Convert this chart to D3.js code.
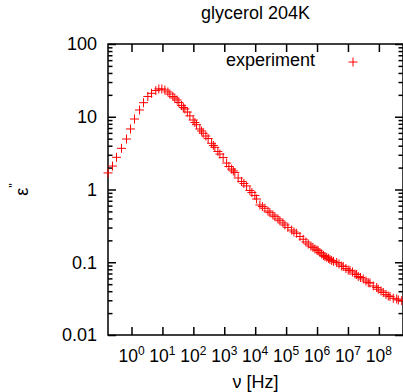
<!DOCTYPE html>
<html>
<head>
<meta charset="utf-8">
<script src="https://cdnjs.cloudflare.com/ajax/libs/d3/7.8.5/d3.min.js"></script>
<style>
	body { margin: 0; background: #fff; }
	text { font-family: "Liberation Sans", Arial, Helvetica, sans-serif; fill: #000; }
</style>
</head>
<body>
<div id="chart"></div>
<script>

///////////////////////////////////////////////////////////////////////////
///////////////////////////////// Data ////////////////////////////////////
///////////////////////////////////////////////////////////////////////////

var titleText = "glycerol 204K";
var seriesName = "experiment";

//frequency [Hz]
var freq = [0.174, 0.243, 0.327, 0.474, 0.689, 0.929, 1.25, 1.82, 2.45, 3.37,
	4.44, 6.11, 7.64, 9.57, 12.0, 15.0, 17.4, 21.7, 25.2, 29.9,
	34.0, 41.5, 47.5, 53.1, 64.0, 77.1, 98.6, 112, 127, 162,
	184, 208, 254, 301, 388, 444, 497, 621, 721, 921,
	1190, 1410, 1720, 1970, 2200, 2820, 3630, 4310, 5270, 6730,
	7820, 9780, 1.11e4, 1.42e4, 1.71e4, 2.06e4, 2.58e4, 2.99e4, 3.74e4, 4.35e4,
	5.43e4, 6.30e4, 7.87e4, 9.14e4, 1.14e5, 1.51e5, 1.79e5, 2.19e5, 2.80e5, 3.57e5,
	4.37e5, 5.19e5, 6.35e5, 7.37e5, 8.55e5, 9.93e5, 1.09e6, 1.24e6, 1.41e6, 1.61e6,
	1.80e6, 2.05e6, 2.34e6, 2.61e6, 2.97e6, 3.40e6, 4.31e6, 5.12e6, 6.25e6, 7.05e6,
	8.61e6, 1.02e7, 1.16e7, 1.40e7, 1.69e7, 1.91e7, 2.15e7, 2.54e7, 3.13e7, 3.83e7,
	4.54e7, 5.15e7, 6.59e7, 8.49e7, 9.57e7, 1.17e8, 1.39e8, 1.70e8, 2.01e8, 2.29e8,
	2.92e8, 3.77e8, 4.25e8, 5.47e8];

//dielectric loss eps''
var epsLoss = [1.69, 2.10, 2.77, 3.68, 4.94, 6.79, 9.31, 12.4, 15.6, 19.0,
	21.0, 22.9, 24.1, 24.1, 23.3, 21.9, 20.5, 19.0, 18.1, 17.0,
	15.7, 14.3, 13.4, 12.8, 11.6, 10.3, 9.02, 8.34, 7.78, 6.79,
	6.37, 5.93, 5.43, 5.02, 4.32, 4.03, 3.80, 3.33, 3.07, 2.75,
	2.31, 2.07, 1.91, 1.80, 1.71, 1.44, 1.29, 1.21, 1.12, 0.968,
	0.910, 0.828, 0.740, 0.612, 0.583, 0.552, 0.506, 0.480, 0.446, 0.423,
	0.394, 0.372, 0.347, 0.325, 0.301, 0.277, 0.261, 0.250, 0.226, 0.207,
	0.190, 0.178, 0.167, 0.160, 0.152, 0.147, 0.144, 0.136, 0.130, 0.124,
	0.120, 0.117, 0.113, 0.109, 0.106, 0.103, 0.0993, 0.0946, 0.0888, 0.0875,
	0.0820, 0.0782, 0.0771, 0.0735, 0.0689, 0.0679, 0.0637, 0.0617, 0.0589, 0.0552,
	0.0524, 0.0519, 0.0472, 0.0450, 0.0426, 0.0403, 0.0384, 0.0361, 0.0344, 0.0338,
	0.0320, 0.0313, 0.0303, 0.0296];

var xTickValues = [1e0, 1e1, 1e2, 1e3, 1e4, 1e5, 1e6, 1e7, 1e8];
var xTickExp = ["0", "1", "2", "3", "4", "5", "6", "7", "8"];
var yTickValues = [0.01, 0.1, 1, 10, 100];
var yTickLabels = ["0.01", "0.1", "1", "10", "100"];

///////////////////////////////////////////////////////////////////////////
//////////////////// Set up and initiate svg container ////////////////////
///////////////////////////////////////////////////////////////////////////

var width = 403, height = 392;
var margin = { top: 44, right: 0, bottom: 57, left: 108 };
var plotW = width - margin.left - margin.right,
	plotH = height - margin.top - margin.bottom;

var svg = d3.select("#chart").append("svg")
	.attr("width", width)
	.attr("height", height);

var x = d3.scaleLog()
	.domain([Math.pow(10, -0.76), Math.pow(10, 8.78)])
	.range([margin.left, margin.left + plotW]);

var y = d3.scaleLog()
	.domain([0.01, 100])
	.range([margin.top + plotH, margin.top]);

var data = freq.map(function(f, i) { return { f: f, e: epsLoss[i] }; });

///////////////////////////////////////////////////////////////////////////
///////////////////////////////// Axes ////////////////////////////////////
///////////////////////////////////////////////////////////////////////////

var majorLen = 8, minorLen = 4.5;

//minor y ticks 2..9 per decade
var yMinor = [];
yTickValues.slice(0, -1).forEach(function(d) {
	d3.range(2, 10).forEach(function(k) { yMinor.push(d * k); });
});

//Left and right (mirror) axes, ticks pointing inward
svg.append("g")
	.attr("transform", "translate(" + margin.left + ",0)")
	.call(d3.axisRight(y).tickValues(yTickValues).tickSize(majorLen).tickFormat(""))
	.call(function(g) { g.select(".domain").remove(); });
svg.append("g")
	.attr("transform", "translate(" + margin.left + ",0)")
	.call(d3.axisRight(y).tickValues(yMinor).tickSize(minorLen).tickFormat(""))
	.call(function(g) { g.select(".domain").remove(); });
svg.append("g")
	.attr("transform", "translate(" + (margin.left + plotW) + ",0)")
	.call(d3.axisLeft(y).tickValues(yTickValues).tickSize(majorLen).tickFormat(""))
	.call(function(g) { g.select(".domain").remove(); });
svg.append("g")
	.attr("transform", "translate(" + (margin.left + plotW) + ",0)")
	.call(d3.axisLeft(y).tickValues(yMinor).tickSize(minorLen).tickFormat(""))
	.call(function(g) { g.select(".domain").remove(); });

//Bottom and top (mirror) axes
svg.append("g")
	.attr("transform", "translate(0," + (margin.top + plotH) + ")")
	.call(d3.axisTop(x).tickValues(xTickValues).tickSize(majorLen).tickFormat(""))
	.call(function(g) { g.select(".domain").remove(); });
svg.append("g")
	.attr("transform", "translate(0," + margin.top + ")")
	.call(d3.axisBottom(x).tickValues(xTickValues).tickSize(majorLen).tickFormat(""))
	.call(function(g) { g.select(".domain").remove(); });

svg.selectAll(".tick line")
	.style("stroke", "#000")
	.style("stroke-width", "1.5px");

//Border
svg.append("rect")
	.attr("x", margin.left)
	.attr("y", margin.top)
	.attr("width", plotW)
	.attr("height", plotH)
	.style("fill", "none")
	.style("stroke", "#000")
	.style("stroke-width", "1.5px");

//Y tick labels
svg.selectAll(".y-label")
	.data(yTickValues)
	.enter().append("text")
	.attr("class", "y-label")
	.attr("x", 97)
	.attr("y", function(d) { return y(d); })
	.attr("dy", "0.35em")
	.attr("text-anchor", "end")
	.style("font-size", "18px")
	.text(function(d, i) { return yTickLabels[i]; });

//X tick labels, 10 with superscript exponent
var xLab = svg.selectAll(".x-label")
	.data(xTickValues)
	.enter().append("text")
	.attr("class", "x-label")
	.attr("x", function(d) { return x(d); })
	.attr("y", 362)
	.attr("text-anchor", "middle")
	.style("font-size", "17.5px");
xLab.append("tspan").text("10");
xLab.append("tspan")
	.attr("dy", -7)
	.style("font-size", "12px")
	.text(function(d, i) { return xTickExp[i]; });

///////////////////////////////////////////////////////////////////////////
///////////////////////////// Titles & labels /////////////////////////////
///////////////////////////////////////////////////////////////////////////

svg.append("text")
	.attr("x", margin.left + plotW / 2)
	.attr("y", 19)
	.attr("text-anchor", "middle")
	.style("font-size", "18px")
	.text(titleText);

svg.append("text")
	.attr("x", margin.left + plotW / 2)
	.attr("y", 388)
	.attr("text-anchor", "middle")
	.style("font-size", "18px")
	.text("\u03bd [Hz]");

var yTitle = svg.append("text")
	.attr("transform", "translate(28," + (margin.top + plotH / 2) + ") rotate(-90)")
	.attr("text-anchor", "middle")
	.style("font-size", "18px");
yTitle.append("tspan").text("\u03b5");
yTitle.append("tspan")
	.attr("dy", -10)
	.style("font-size", "12px")
	.text("''");

///////////////////////////////////////////////////////////////////////////
//////////////////////////////// Points ///////////////////////////////////
///////////////////////////////////////////////////////////////////////////

var pr = 4.5;
function plusPath(cx, cy) {
	return "M" + (cx - pr) + "," + cy + "h" + (2 * pr) + "M" + cx + "," + (cy - pr) + "v" + (2 * pr);
}

svg.append("g")
	.selectAll("path")
	.data(data)
	.enter().append("path")
	.attr("d", function(d) { return plusPath(x(d.f), y(d.e)); })
	.style("fill", "none")
	.style("stroke", "#f00")
	.style("stroke-width", "1px");

//Legend
svg.append("text")
	.attr("x", 315)
	.attr("y", 66)
	.attr("text-anchor", "end")
	.style("font-size", "18px")
	.text(seriesName);
svg.append("path")
	.attr("d", plusPath(353, 62))
	.style("fill", "none")
	.style("stroke", "#f00")
	.style("stroke-width", "1px");

</script>
</body>
</html>
